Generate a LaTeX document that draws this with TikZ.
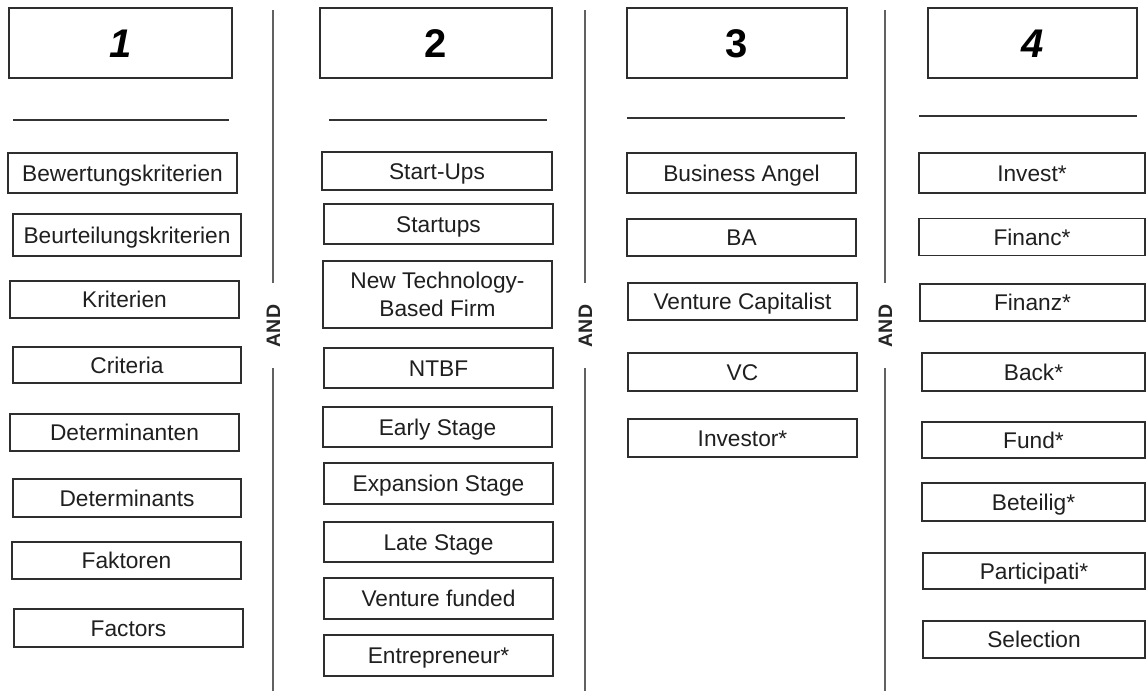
\documentclass[tikz,border=0pt]{standalone}
\usepackage{fontspec}
\setmainfont{Liberation Sans}
\begin{document}
\begin{tikzpicture}[x=1pt,y=-1pt,
  cellbase/.style={draw=black!82, line width=1.5pt, inner sep=0pt, align=center,
    text=black!88, font=\fontsize{22.7}{28}\selectfont},
  cell/.style={cellbase, text height=16.3pt, text depth=0pt},
  head/.style={draw=black!82, line width=1.6pt, inner sep=0pt,
    text=black, minimum height=70pt, text height=28.8pt, text depth=0pt,
    font=\fontsize{40}{44}\selectfont\bfseries},
  rule/.style={draw=black!80, line width=1.4pt},
  divider/.style={draw=black!62, line width=2pt},
  andlabel/.style={rotate=90, inner sep=0pt, text=black!85, text height=14pt, text depth=0pt,
    font=\fontsize{19.5}{22}\selectfont\bfseries}]
\useasboundingbox (0,0) rectangle (1146,691);
\fill[white] (0,0) rectangle (1146,691);

% ---------- column 1 ----------
\node[head, minimum width=223pt] (h1) at (120.5,43) {\itshape 1};
\draw[rule] (13,120) -- (229,120);
\node[cell, minimum width=229pt, minimum height=40pt] (c1a) at (122.5,173) {Bewertungskriterien};
\node[cell, minimum width=228pt, minimum height=42pt] (c1b) at (127,235) {Beurteilungskriterien};
\node[cell, minimum width=229pt, minimum height=37pt] (c1c) at (124.5,299.5) {Kriterien};
\node[cell, minimum width=228pt, minimum height=36pt] (c1d) at (127,365) {Criteria};
\node[cell, minimum width=229pt, minimum height=37pt] (c1e) at (124.5,432.5) {Determinanten};
\node[cell, minimum width=228pt, minimum height=38pt] (c1f) at (127,498) {Determinants};
\node[cell, minimum width=229pt, minimum height=37pt] (c1g) at (126.5,560.5) {Faktoren};
\node[cell, minimum width=229pt, minimum height=38pt] (c1h) at (128.5,628) {Factors};

% ---------- column 2 ----------
\node[head, minimum width=232pt] (h2) at (436,43) {2};
\draw[rule] (329,120) -- (547,120);
\node[cell, minimum width=230pt, minimum height=38pt] (c2a) at (437,171) {Start-Ups};
\node[cell, minimum width=229pt, minimum height=40pt] (c2b) at (438.5,224) {Startups};
\node[cellbase, minimum width=229pt, minimum height=67pt] (c2c) at (437.5,294.5) {New Technology-\\Based Firm};
\node[cell, minimum width=229pt, minimum height=40pt] (c2d) at (438.5,368) {NTBF};
\node[cell, minimum width=229pt, minimum height=40pt] (c2e) at (437.5,427) {Early Stage};
\node[cell, minimum width=229pt, minimum height=41pt] (c2f) at (438.5,483.5) {Expansion Stage};
\node[cell, minimum width=229pt, minimum height=40pt] (c2g) at (438.5,542) {Late Stage};
\node[cell, minimum width=229pt, minimum height=41pt] (c2h) at (438.5,598.5) {Venture funded};
\node[cell, minimum width=229pt, minimum height=41pt] (c2i) at (438.5,655.5) {Entrepreneur*};

% ---------- column 3 ----------
\node[head, minimum width=220pt] (h3) at (737,43) {3};
\draw[rule] (627,118) -- (845,118);
\node[cell, minimum width=229pt, minimum height=40pt] (c3a) at (741.5,173) {Business Angel};
\node[cell, minimum width=229pt, minimum height=37pt] (c3b) at (741.5,237.5) {BA};
\node[cell, minimum width=229pt, minimum height=37pt] (c3c) at (742.5,301.5) {Venture Capitalist};
\node[cell, minimum width=229pt, minimum height=38pt] (c3d) at (742.5,372) {VC};
\node[cell, minimum width=229pt, minimum height=38pt] (c3e) at (742.5,438) {Investor*};

% ---------- column 4 ----------
\node[head, minimum width=209pt] (h4) at (1032.5,43) {\itshape 4};
\draw[rule] (919,116) -- (1137,116);
\node[cell, minimum width=226pt, minimum height=40pt] (c4a) at (1032,173) {Invest*};
\node[cell, minimum width=226pt, minimum height=37pt] (c4b) at (1032,237) {Financ*};
\node[cell, minimum width=225pt, minimum height=37pt] (c4c) at (1032.5,302.5) {Finanz*};
\node[cell, minimum width=223pt, minimum height=38pt] (c4d) at (1033.5,372) {Back*};
\node[cell, minimum width=223pt, minimum height=36pt] (c4e) at (1033.5,440) {Fund*};
\node[cell, minimum width=223pt, minimum height=38pt] (c4f) at (1033.5,502) {Beteilig*};
\node[cell, minimum width=222pt, minimum height=36pt] (c4g) at (1034,571) {Participati*};
\node[cell, minimum width=222pt, minimum height=37pt] (c4h) at (1034,639.5) {Selection};

% ---------- dividers with AND ----------
\foreach \dx/\nm in {273/and1, 585/and2, 885/and3}{
  \coordinate (\nm top) at (\dx,10);
  \coordinate (\nm bot) at (\dx,691);
  \node[andlabel] (\nm) at (\dx,326) {AND};
  \draw[divider] (\nm top) -- (\dx,283);
  \draw[divider] (\dx,368) -- (\nm bot);
}
\end{tikzpicture}
\end{document}
